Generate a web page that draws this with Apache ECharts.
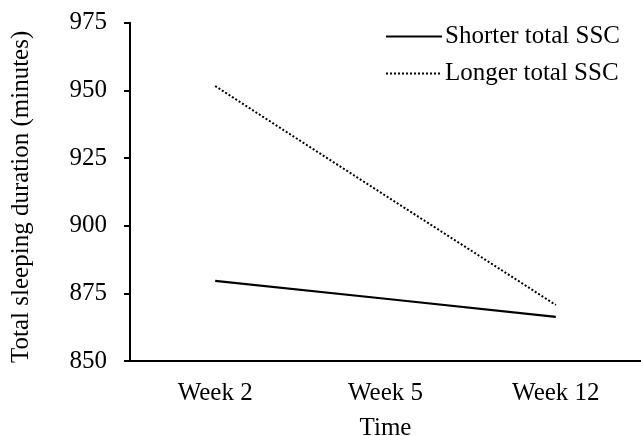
<!DOCTYPE html>
<html>
<head>
<meta charset="utf-8">
<style>
  html, body { margin: 0; padding: 0; background: #fff; }
  #chart { width: 641px; height: 436px; }
</style>
<script src="https://cdn.jsdelivr.net/npm/echarts@6/dist/echarts.min.js"></script>
</head>
<body>
<div id="chart"></div>
<script>
// Total sleeping duration by measurement week, split by total SSC group
const weeks = ['Week 2', 'Week 5', 'Week 12'];
const shorterSSC = [879.6, 873.0, 866.3];
const longerSSC = [951.6, 911.1, 870.7];
const yTicks = { min: 850, max: 975, step: 25 };

const FONT = "'Liberation Serif', 'Times New Roman', serif";
const INK = '#000';

const chart = echarts.init(document.getElementById('chart'), null, { renderer: 'canvas' });

chart.setOption({
  animation: false,
  backgroundColor: '#fff',
  textStyle: { fontFamily: FONT, color: INK },
  grid: { left: 130, right: 0, top: 22.7, bottom: 75, outerBoundsMode: 'none', containLabel: false },
  legend: {
    orient: 'vertical',
    right: 21,
    top: 24,
    padding: 0,
    itemWidth: 56,
    itemHeight: 14,
    itemGap: 12,
    // plain line samples, no point markers
    itemStyle: { opacity: 0 },
    textStyle: { fontFamily: FONT, fontSize: 25, color: INK, padding: [0, 0, 0, -2] },
    data: ['Shorter total SSC', 'Longer total SSC']
  },
  xAxis: {
    type: 'category',
    data: weeks,
    boundaryGap: true,
    name: 'Time',
    nameLocation: 'middle',
    nameGap: 55,
    nameTextStyle: { fontFamily: FONT, fontSize: 25, color: INK },
    axisLine: { lineStyle: { color: INK, width: 2 } },
    axisTick: { alignWithLabel: true, length: 6, lineStyle: { color: INK, width: 2 } },
    axisLabel: { fontFamily: FONT, fontSize: 25, color: INK, margin: 20 },
    splitLine: { show: false }
  },
  yAxis: {
    type: 'value',
    min: yTicks.min,
    max: yTicks.max,
    interval: yTicks.step,
    name: 'Total sleeping duration (minutes)',
    nameLocation: 'middle',
    nameGap: 96,
    nameTextStyle: { fontFamily: FONT, fontSize: 25, color: INK, padding: [0, 0, 0, -10] },
    axisLine: { show: true, lineStyle: { color: INK, width: 2 } },
    axisTick: { show: true, length: 6, lineStyle: { color: INK, width: 2 } },
    axisLabel: { fontFamily: FONT, fontSize: 25, color: INK, margin: 23 },
    splitLine: { show: false }
  },
  series: [
    {
      name: 'Shorter total SSC',
      type: 'line',
      data: shorterSSC,
      symbol: 'none',
      silent: true,
      color: INK,
      lineStyle: { color: INK, width: 2.2, type: 'solid' }
    },
    {
      name: 'Longer total SSC',
      type: 'line',
      data: longerSSC,
      symbol: 'none',
      silent: true,
      color: INK,
      lineStyle: { color: INK, width: 2, type: 'dotted' }
    }
  ]
});
</script>
</body>
</html>
